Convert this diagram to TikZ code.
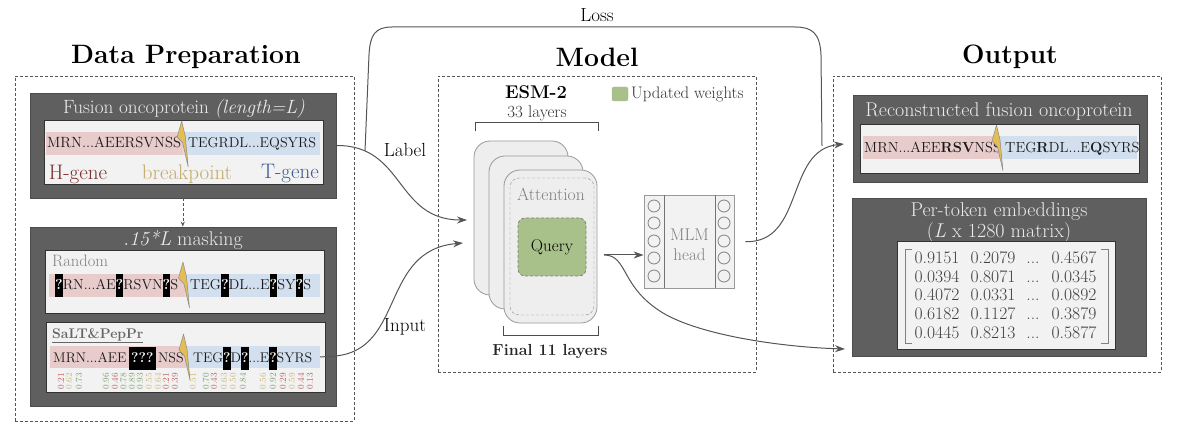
\documentclass[tikz,border=0pt]{standalone}
\usepackage{tikz}
\usetikzlibrary{fit}
\usetikzlibrary{arrows.meta}
\definecolor{boxgray}{HTML}{5F5F5F}
\definecolor{linegray}{HTML}{555555}
\definecolor{paper}{HTML}{F2F2F2}
\definecolor{cardgray}{HTML}{EEEEEE}
\definecolor{hpink}{HTML}{E8CBCB}
\definecolor{tblue}{HTML}{D2DFEF}
\definecolor{hred}{HTML}{7D2E2E}
\definecolor{tnavy}{HTML}{3E5A8F}
\definecolor{goldtext}{HTML}{C4AA6B}
\definecolor{bolty}{HTML}{E3BD55}
\definecolor{weightgreen}{HTML}{A8C08A}
\definecolor{pr}{HTML}{C0605F}
\definecolor{py}{HTML}{CDB877}
\definecolor{pg}{HTML}{7FA070}
\newcommand\fsize[1]{\fontsize{#1}{#1}\selectfont}
\newcommand\masked[1]{\sbox0{\color{white}\bfseries #1}\rlap{\color{black}\rule[-7.5pt]{\wd0}{23pt}}\usebox0}
\tikzset{panel/.style={rectangle, draw=linegray, densely dashed, inner sep=0pt, semithick}}
\tikzset{darkbox/.style={rectangle, draw=black!70, fill=boxgray, inner sep=0pt, thick}}
\tikzset{lightbox/.style={rectangle, draw=black!80, fill=paper, inner sep=0pt, thick}}
\tikzset{hstrip/.style={rectangle, fill=hpink, inner sep=0pt}}
\tikzset{tstrip/.style={rectangle, fill=tblue, inner sep=0pt}}
\tikzset{seqtext/.style={anchor=base west, inner sep=0pt, text=black!90}}
\tikzset{headtext/.style={text=black!8, inner sep=0pt}}
\tikzset{title/.style={font=\fsize{26.6}\bfseries, inner sep=0pt}}
\tikzset{flow/.style={draw=linegray, line width=1pt, -{Stealth[length=10pt,width=7pt]}}}
\tikzset{flowline/.style={draw=linegray, line width=1pt}}
\tikzset{card/.style={rectangle, rounded corners=16pt, draw=black!40, fill=cardgray, thick, inner sep=0pt}}
\tikzset{neuron/.style={circle, draw=black!50, thick, minimum size=12pt, inner sep=0pt}}
\tikzset{cellnum/.style={font=\fsize{17.6}, text=black!75, anchor=base}}
\tikzset{bolt/.pic={
  \draw[draw=black!45, fill=bolty, line width=.5pt, line join=round]
    (0,0) -- (-4.5,16) -- (1,22) -- (6.5,46) -- (3.5,15) -- cycle;
}}
\begin{document}
\begin{tikzpicture}[x=1pt,y=-1pt]
    \useasboundingbox (0,0) rectangle (1180,438);

    \node[title] (tdata) at (186,57) {Data Preparation};
    \node[title] (tmodel) at (597,57) {Model};
    \node[title] (toutput) at (1010,57) {Output};

    \node[panel, fit={(15,76)(354,421)}] (pdata) {};
    \node[panel, fit={(438,76)(756,372)}] (pmodel) {};
    \node[panel, fit={(833,76)(1161,372)}] (poutput) {};

    % fusion box
    \node[darkbox, fit={(30,93)(336,198)}] (fusion) {};
    \node[lightbox, fit={(44,120)(323,184)}] (fusionin) {};
    \node[headtext, font=\fsize{19.2}] at (184,109) {Fusion oncoprotein \textit{(length=L)}};
    \node[hstrip, fit={(46,132)(183,155)}] (fh) {};
    \node[tstrip, fit={(183,132)(320,155)}] (ft) {};
    \node[seqtext, font=\fsize{14.8}] at (47,148) {MRN...AEERSVNSS};
    \node[seqtext, font=\fsize{14.2}] at (188,148) {TEGRDL...EQSYRS};
    \pic at (181.7,121) {bolt};
    \node[text=hred, font=\fsize{21}] at (78,174) {H-gene};
    \node[text=goldtext, font=\fsize{21}] at (187,174) {breakpoint};
    \node[text=tnavy, font=\fsize{21}] at (290,174) {T-gene};

    % masking box
    \node[darkbox, fit={(30,227)(336,406)}] (masking) {};
    \node[headtext, font=\fsize{19.9}] at (183,240) {\textit{.15*L} masking};

    \node[lightbox, fit={(45,250)(324,313)}] (random) {};
    \node[text=black!50, font=\fsize{16.5}, anchor=base west, inner sep=0pt] at (52,267) {Random};
    \node[hstrip, fit={(49,274)(185,297)}] (rh) {};
    \node[tstrip, fit={(185,274)(320,297)}] (rt) {};
    \node[seqtext, font=\fsize{14.4}] at (55,290) {\masked{?}RN...AE\masked{?}RSVN\masked{?}S};
    \node[seqtext, font=\fsize{14.4}] at (190,290) {TEG\masked{?}DL...E\masked{?}SY\masked{?}S};
    \pic at (183,262) {bolt};

    \node[lightbox, fit={(46,322)(325,392)}] (salt) {};
    \node[text=black!60, font=\fsize{14}\bfseries, anchor=base west, inner sep=0pt] at (52,338) {\underline{SaLT\&PepPr}};
    \node[hstrip, fit={(50,346)(186,368)}] (sh) {};
    \node[tstrip, fit={(186,346)(320,368)}] (st) {};
    \node[seqtext, font=\fsize{14}] at (53,362.5) {MRN...AEE\,\masked{\,???\,}\,NSS};
    \node[seqtext, font=\fsize{14}] at (193,362.5) {TEG\masked{?}D\masked{?}...E\masked{?}SYRS};
    \pic at (183.5,334) {bolt};
    \foreach \x/\v/\c in {61/0.21/pr,69/0.62/py,79/0.73/pg,106/0.96/pg,115/0.46/pr,123.5/0.78/pg,132/0.89/pg,140/0.93/pg,149/0.55/py,158/0.64/py,166/0.21/pr,175/0.39/pr,193/0.51/py,206/0.70/pg,214/0.43/pr,224/0.63/py,233/0.50/py,243/0.84/pg,263/0.56/py,273/0.92/pg,283/0.29/pr,292/0.59/py,301/0.44/pr,310/0.13/pr}
      \node[rotate=90, text=\c, font=\fsize{9}, inner sep=0pt] at (\x,381) {\v};

    \draw[-{Stealth[length=5pt,width=4pt]}, draw=linegray, densely dashed] (fusion.south -| ft.west) -- (masking.north -| ft.west);

    % model
    \node[font=\fsize{18.4}\bfseries] (esm) at (536,92) {ESM-2};
    \node[font=\fsize{17}, text=black!80] (n33) at (537,113) {33 layers};
    \draw[draw=black!70] (475,131) -- (475,122) -- (598,122) -- (598,131);
    \node[rectangle, rounded corners=2pt, fill=weightgreen, draw=black!30, fit={(612,87)(628,101)}, inner sep=0pt] (legend) {};
    \node[right=0pt, font=\fsize{16.7}, text=black!80, inner sep=0pt] at (631,94) {Updated weights};

    \node[card, fit={(474,141)(568,295)}] (layerA) {};
    \node[card, fit={(489,156)(583,309)}] (layerB) {};
    \node[card, fit={(504,170)(597,323)}] (layerC) {};
    \node[rectangle, rounded corners=9pt, densely dashed, draw=black!45, fit={(510,178)(594,315)}, inner sep=0pt] (attn) {};
    \node[text=black!50, font=\fsize{17.6}] at (551,194) {Attention};
    \node[rectangle, rounded corners=7pt, densely dashed, draw=black!50, fill=weightgreen, thick, fit={(518,218)(586,276)}, inner sep=0pt, label=center:{\fsize{17}Query}] (query) {};
    \draw[draw=black!70] (503,326) -- (503,335) -- (598,335) -- (598,326);
    \node[font=\fsize{16}\bfseries, text=black!85] (final) at (550,352) {Final 11 layers};

    \node[rectangle, draw=black!40, fill=paper, thick, fit={(644,195)(734,288)}, inner sep=0pt] (mlm) {};
    \draw[draw=black!55, thick] (664,195) -- (664,288) (715,195) -- (715,288);
    \foreach \y [count=\i] in {206,223,241,258,276} {
      \node[neuron] (nl\i) at (654,\y) {};
      \node[neuron] (nr\i) at (724,\y) {};
    }
    \node[text=black!50, font=\fsize{17}, align=center] at (689.5,245) {MLM\\[3pt]head};

    % output
    \node[darkbox, fit={(853,95)(1147,182)}] (recon) {};
    \node[headtext, font=\fsize{20}] at (999,111.5) {Reconstructed fusion oncoprotein};
    \node[lightbox, fit={(860,124)(1139,173)}] (reconin) {};
    \node[hstrip, fit={(863,136)(1000,159)}] (oh) {};
    \node[tstrip, fit={(1000,136)(1137,159)}] (ot) {};
    \node[seqtext, font=\fsize{14.6}] at (864,153) {MRN...AEE\textbf{RSV}NSS};
    \node[seqtext, font=\fsize{14.6}] at (1005,153) {TEG\textbf{R}DL...E\textbf{Q}SYRS};
    \pic at (996.5,125) {bolt};

    \node[darkbox, fit={(852,198)(1146,356)}] (pertoken) {};
    \node[headtext, font=\fsize{20}, align=center] at (999,223) {Per-token embeddings\\[1pt](\textit{L} x 1280 matrix)};
    \node[lightbox, fit={(897,241)(1115,349)}] (embed) {};
    \draw[draw=black!50] (912,249) -- (905,249) -- (905,343) -- (912,343);
    \draw[draw=black!50] (1101,249) -- (1108,249) -- (1108,343) -- (1101,343);
    \foreach \y/\a/\b/\d in {264/0.9151/0.2079/0.4567,282.5/0.0394/0.8071/0.0345,301/0.4072/0.0331/0.0892,319/0.6182/0.1127/0.3879,338/0.0445/0.8213/0.5877} {
      \node[cellnum] at (937,\y) {\a};
      \node[cellnum] at (993,\y) {\b};
      \node[cellnum] at (1033,\y) {...};
      \node[cellnum] at (1074,\y) {\d};
    }

    % connectors
    \coordinate (labelin) at (467,220);
    \coordinate (inputin) at (463,243);
    \coordinate (lossstart) at (365,151);
    \coordinate (lossend) at (822,146);
    \coordinate (fork) at (604,255);
    \coordinate (saltout) at (320,357);

    \draw[flow] (fusion.east) .. controls (405,145) and (395,220) .. (labelin);
    \draw[flow] (saltout) -- (335,356) .. controls (405,350) and (380,250) .. (inputin);
    \draw[flowline] (lossstart) -- (369,55) .. controls (370,35) and (375,27) .. (392,27) -- (795,27) .. controls (812,27) and (820,33) .. (821,55) -- (lossend);
    \draw[flow] (fork) -- (fork -| mlm.west);
    \draw[flow] (fork) .. controls (628,255) and (620,287) .. (663,313) .. controls (700,335) and (780,347) .. (845,349);
    \draw[flow, shorten <=11pt] (mlm.east) .. controls (805,243) and (785,150) .. (844,144);

    \node[font=\fsize{19}, inner sep=0pt] (loss) at (597,15) {Loss};
    \node[font=\fsize{19}, inner sep=0pt] (label) at (405,150) {Label};
    \node[font=\fsize{19}, inner sep=0pt] (input) at (405,327) {Input};

  \end{tikzpicture}
\end{document}
